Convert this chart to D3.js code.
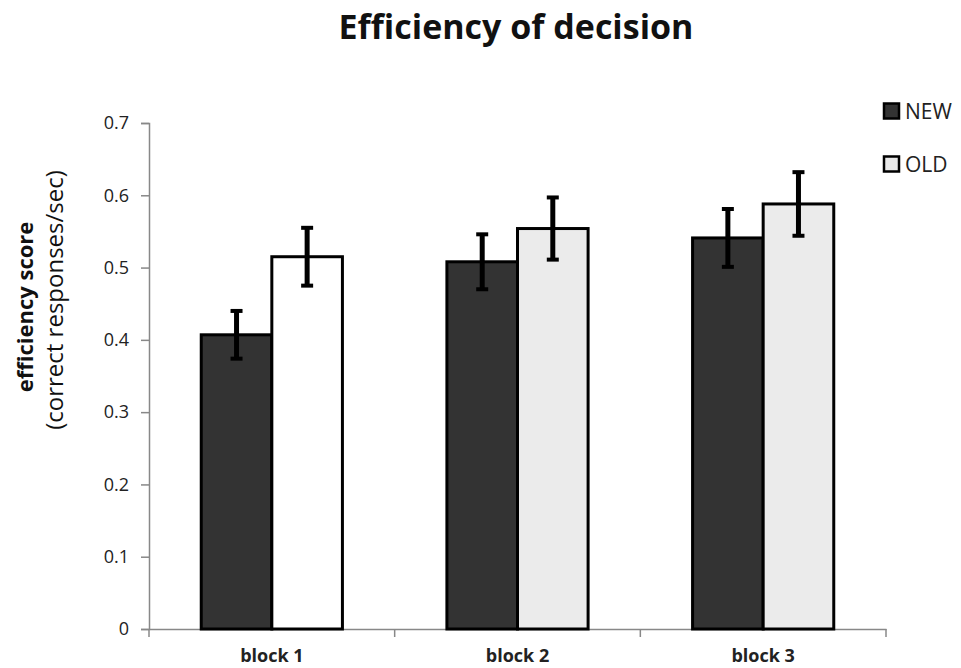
<!DOCTYPE html>
<html><head><meta charset="utf-8">
<script src="https://cdn.jsdelivr.net/npm/d3@7"></script>
<style>body{margin:0;background:#fff}svg{display:block}</style>
</head><body>
<svg id="c" width="961" height="668"></svg>
<script>
const categories = ["block 1", "block 2", "block 3"];
const seriesNames = ["NEW", "OLD"];
const newValues = [0.407, 0.508, 0.541];
const oldValues = [0.515, 0.554, 0.588];
const newErrors = [0.033, 0.038, 0.040];
const oldErrors = [0.040, 0.043, 0.044];
const yTicks = [0, 0.1, 0.2, 0.3, 0.4, 0.5, 0.6, 0.7];
const newColors = ["#333333", "#333333", "#333333"];
const oldColors = ["#ffffff", "#ebebeb", "#ebebeb"];

const svg = d3.select("#c");
const font = "'Open Sans', 'DejaVu Sans', sans-serif";
const x0 = 149, x1 = 886, yTop = 123, yBot = 629;

const x = d3.scaleBand().domain(categories).range([x0, x1]).paddingInner(0).paddingOuter(0);
const xs = d3.scaleBand().domain(seriesNames).range([0, x.bandwidth()]).paddingInner(0).paddingOuter(0.74);
const y = d3.scaleLinear().domain([0, 0.7]).range([yBot, yTop]);

// title
svg.append("text").attr("x", 516).attr("y", 39).attr("text-anchor", "middle")
  .attr("font-family", font).attr("font-weight", "bold").attr("font-size", 34)
  .attr("fill", "#111").text("Efficiency of decision");

// y axis
const yAxis = svg.append("g").attr("transform", `translate(${x0},0)`)
  .call(d3.axisLeft(y).tickValues(yTicks).tickSize(8).tickPadding(12)
    .tickFormat(d => d === 0 ? "0" : d3.format(".1f")(d)));
yAxis.select(".domain").attr("stroke", "#888").attr("stroke-width", 1.5);
yAxis.selectAll(".tick line").attr("stroke", "#888").attr("stroke-width", 1.5);
yAxis.selectAll(".tick text").attr("font-family", font).attr("font-size", 18).attr("fill", "#222");

// x axis
const xAxis = svg.append("g").attr("transform", `translate(0,${yBot})`)
  .call(d3.axisBottom(x).tickSize(0).tickPadding(20));
xAxis.select(".domain").attr("stroke", "#888").attr("stroke-width", 1.5);
xAxis.selectAll(".tick text").attr("font-family", font).attr("font-weight", "bold")
  .attr("font-size", 18).attr("fill", "#222");
// category boundary ticks
const bounds = categories.map(c => x(c)).concat([x1]);
svg.append("g").selectAll("line").data(bounds).join("line")
  .attr("x1", d => d).attr("x2", d => d).attr("y1", yBot).attr("y2", yBot + 8)
  .attr("stroke", "#888").attr("stroke-width", 1.5);

// bars
const rows = [];
categories.forEach((c, i) => {
  rows.push({c, s: "NEW", v: newValues[i], e: newErrors[i], fill: newColors[i]});
  rows.push({c, s: "OLD", v: oldValues[i], e: oldErrors[i], fill: oldColors[i]});
});
const g = svg.append("g");
g.selectAll("rect").data(rows).join("rect")
  .attr("x", d => x(d.c) + xs(d.s))
  .attr("y", d => y(d.v))
  .attr("width", xs.bandwidth())
  .attr("height", d => yBot - y(d.v))
  .attr("fill", d => d.fill)
  .attr("stroke", "#000").attr("stroke-width", 3);

// error bars
const eb = svg.append("g");
rows.forEach(d => {
  const cx = x(d.c) + xs(d.s) + xs.bandwidth() / 2;
  eb.append("line").attr("x1", cx).attr("x2", cx)
    .attr("y1", y(d.v + d.e)).attr("y2", y(d.v - d.e))
    .attr("stroke", "#000").attr("stroke-width", 5);
  [d.v + d.e, d.v - d.e].forEach(v => {
    eb.append("line").attr("x1", cx - 6).attr("x2", cx + 6)
      .attr("y1", y(v)).attr("y2", y(v))
      .attr("stroke", "#000").attr("stroke-width", 4);
  });
});

// legend
const legendColors = ["#333333", "#e8e8e8"];
const lg = svg.append("g");
seriesNames.forEach((s, i) => {
  const ly = 111 + i * 53;
  lg.append("rect").attr("x", 884).attr("y", ly - 7.5).attr("width", 15).attr("height", 15)
    .attr("fill", legendColors[i]).attr("stroke", "#000").attr("stroke-width", 2.5);
  lg.append("text").attr("x", 905).attr("y", ly).attr("dy", "0.36em")
    .attr("font-family", font).attr("font-size", 21).attr("fill", "#222").text(s);
});

// y label
svg.append("text").attr("transform", "translate(33,307) rotate(-90)")
  .attr("text-anchor", "middle").attr("font-family", font).attr("font-weight", "bold")
  .attr("font-size", 22).attr("fill", "#111").text("efficiency score");
svg.append("text").attr("transform", "translate(63,300) rotate(-90)")
  .attr("text-anchor", "middle").attr("font-family", font)
  .attr("font-size", 24).attr("fill", "#111").text("(correct responses/sec)");
</script>
</body></html>
